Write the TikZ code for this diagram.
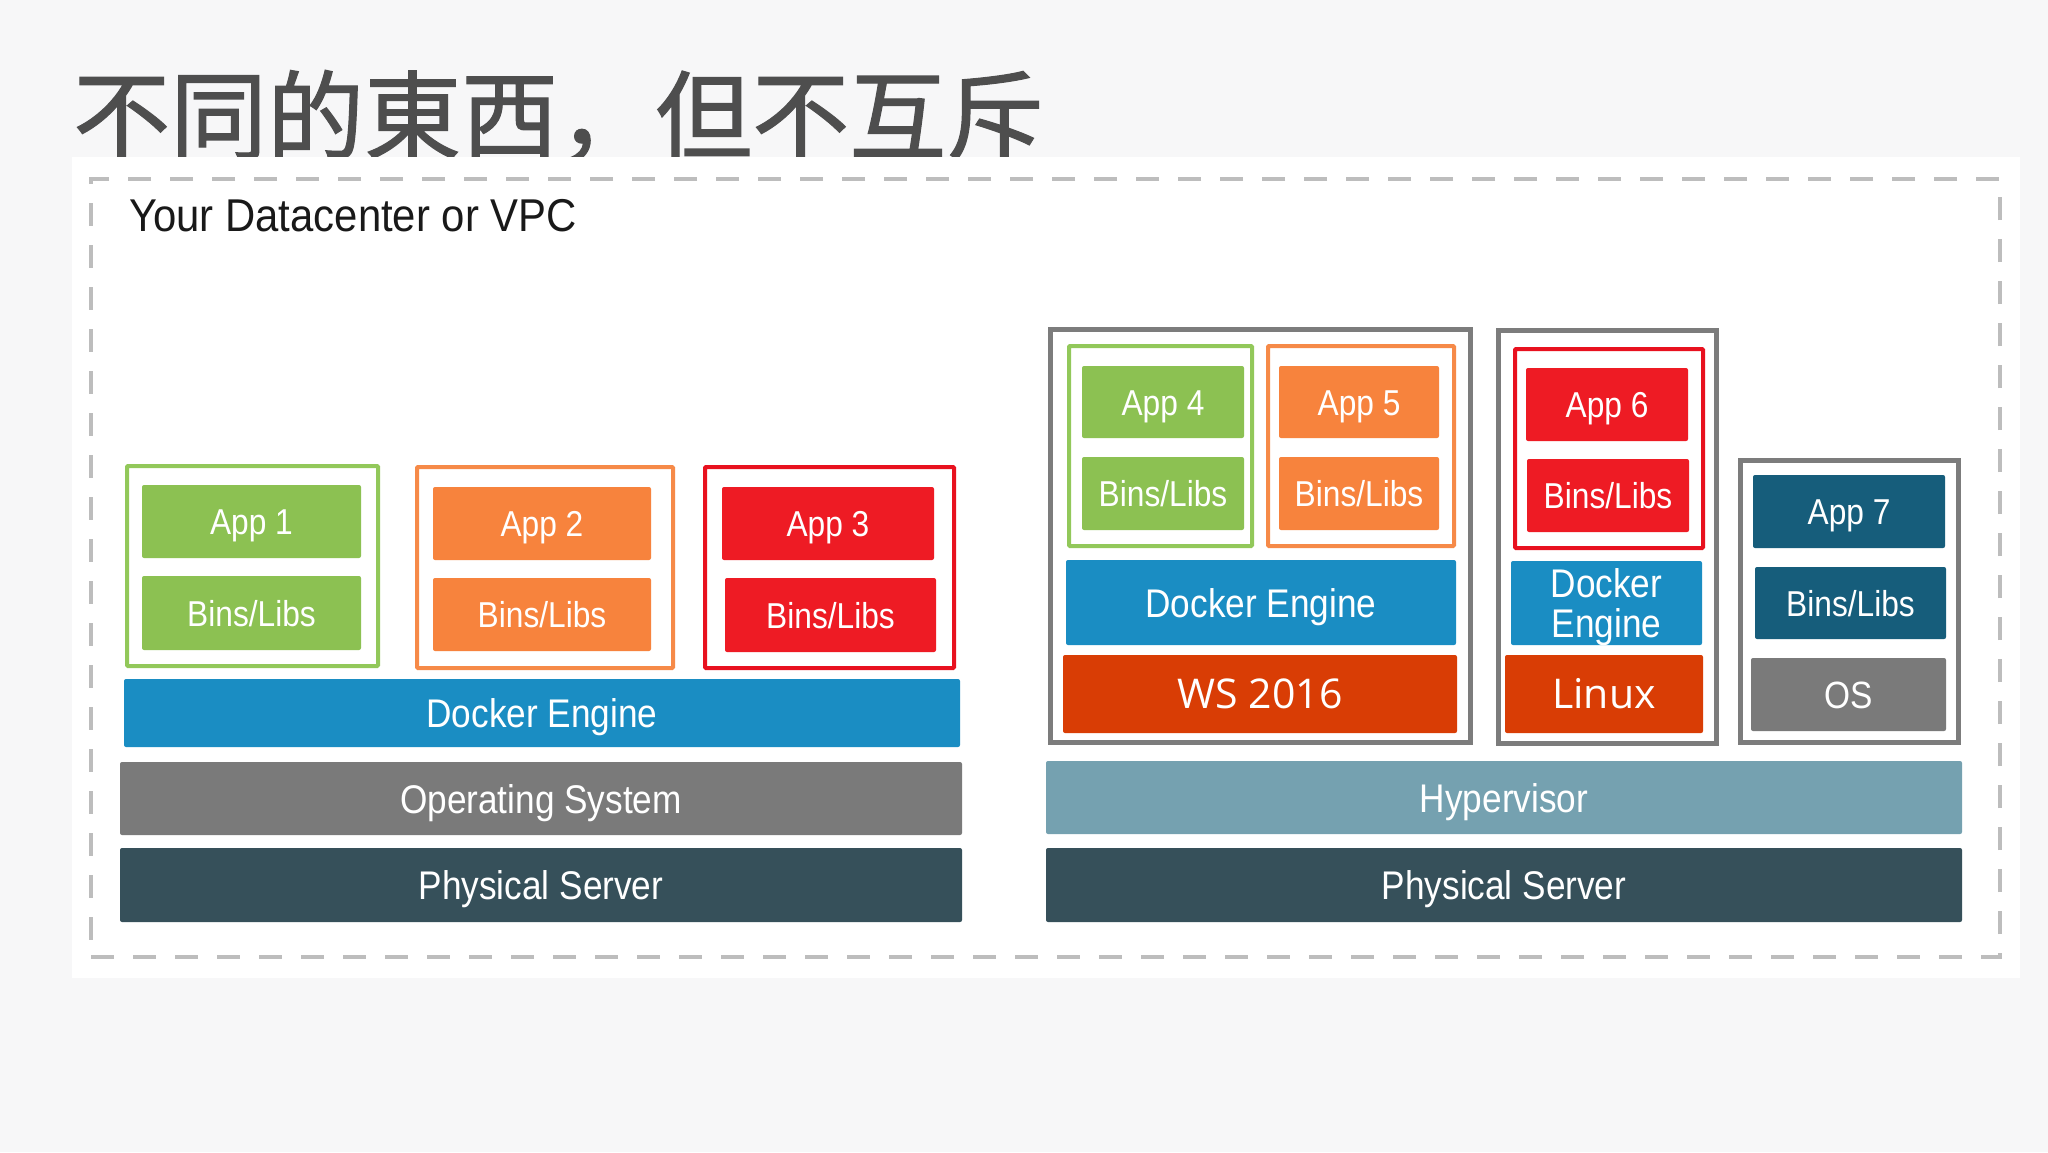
\documentclass[tikz,border=0pt]{standalone}
\usepackage{fontspec}
\setmainfont{Liberation Sans}
\newfontfamily\cjkfont[FakeBold=1.2]{Noto Sans CJK SC}
\newfontfamily\segfont{Open Sans}
\usepackage{graphicx}
\definecolor{cbg}{HTML}{F7F7F8}
\definecolor{ctitle}{HTML}{4E4E4E}
\definecolor{cdash}{HTML}{BDBDBD}
\definecolor{cgreen}{HTML}{8CC152}
\definecolor{cgreenL}{HTML}{92C85A}
\definecolor{corange}{HTML}{F7833D}
\definecolor{corangeL}{HTML}{F68A48}
\definecolor{cred}{HTML}{EE1B24}
\definecolor{credL}{HTML}{E8111F}
\definecolor{cblue}{HTML}{1A8DC3}
\definecolor{cgray}{HTML}{7A7A7A}
\definecolor{cphys}{HTML}{36505A}
\definecolor{chyp}{HTML}{75A1B0}
\definecolor{capp}{HTML}{165D7B}
\definecolor{cws}{HTML}{D93D05}
\definecolor{cvm}{HTML}{7C7C7C}
\newcommand\nt[1]{\scalebox{0.88}[1]{#1}}
\tikzset{
  blk/.style={rectangle, rounded corners=2pt, inner sep=0pt, text=white, draw=none,
              font=\fontsize{36}{40}\selectfont, text height=26pt, text depth=0pt},
  bigblk/.style={blk, font=\fontsize{40}{40}\selectfont, align=center, text height=29pt, text depth=0pt},
  osblk/.style={blk, font=\segfont\fontsize{41}{44}\selectfont, text height=29pt, text depth=0pt},
  cont/.style={rectangle, draw=#1, line width=4pt, fill=white, rounded corners=1pt, inner sep=0pt},
  vmbox/.style={rectangle, draw=cvm, line width=5pt, fill=white, inner sep=0pt},
}
\begin{document}
\begin{tikzpicture}[x=1pt, y=-1pt]
\useasboundingbox (0,0) rectangle (2048,1152);
\fill[cbg] (0,0) rectangle (2048,1152);
% title
\node[anchor=base west, inner sep=0pt, text=ctitle, font=\cjkfont\fontsize{97}{100}\selectfont] (title) at (73,152) {不同的東西，但不互斥};
% white panel
\node[rectangle, fill=white, inner sep=0pt, minimum width=1948pt, minimum height=821pt] (panel) at (1046,567.5) {};
% dashed frame
\node[rectangle, draw=cdash, line width=4pt, dash pattern=on 23pt off 19pt, inner sep=0pt,
      minimum width=1909pt, minimum height=778pt] (frame) at (1045.5,568) {};
\node[anchor=base west, inner sep=0pt, text=black!90, font=\fontsize{46}{50}\selectfont] (lbl) at (129,231) {\scalebox{0.91}[1]{Your Datacenter or VPC}};

% ---------- left stack ----------
\node[cont=cgreenL, minimum width=251pt, minimum height=200pt] (c1) at (252.5,566) {};
\node[cont=corangeL, minimum width=256pt, minimum height=201pt] (c2) at (545,567.5) {};
\node[cont=credL, minimum width=249pt, minimum height=201pt] (c3) at (829.5,567.5) {};
\node[blk, fill=cgreen, minimum width=219pt, minimum height=73pt] (a1) at (251.5,521.5) {\nt{App 1}};
\node[blk, fill=cgreen, minimum width=219pt, minimum height=74pt] (b1) at (251.5,613) {\nt{Bins/Libs}};
\node[blk, fill=corange, minimum width=218pt, minimum height=73pt] (a2) at (542,523.5) {\nt{App 2}};
\node[blk, fill=corange, minimum width=218pt, minimum height=73pt] (b2) at (542,614.5) {\nt{Bins/Libs}};
\node[blk, fill=cred, minimum width=212pt, minimum height=73pt] (a3) at (828,523.5) {\nt{App 3}};
\node[blk, fill=cred, minimum width=211pt, minimum height=74pt] (b3) at (830.5,615) {\nt{Bins/Libs}};
\node[bigblk, fill=cblue, minimum width=836pt, minimum height=68pt] (dock1) at (542,713) {\nt{Docker Engine}};
\node[bigblk, fill=cgray, minimum width=842pt, minimum height=73pt] (os1) at (541,798.5) {\nt{Operating System}};
\node[bigblk, fill=cphys, minimum width=842pt, minimum height=74pt] (phys1) at (541,885) {\nt{Physical Server}};

% ---------- right stack ----------
\node[vmbox, minimum width=420pt, minimum height=413pt] (vm1) at (1260.5,536) {};
\node[vmbox, minimum width=218pt, minimum height=413pt] (vm2) at (1607.5,537) {};
\node[vmbox, minimum width=218pt, minimum height=282pt] (vm3) at (1849.5,601.5) {};

\node[cont=cgreenL, minimum width=183pt, minimum height=200pt] (c4) at (1160.5,446) {};
\node[cont=corangeL, minimum width=186pt, minimum height=200pt] (c5) at (1361,446) {};
\node[cont=credL, minimum width=188pt, minimum height=199pt] (c6) at (1609,448.5) {};

\node[blk, fill=cgreen, minimum width=162pt, minimum height=72pt] (a4) at (1163,402) {\nt{App 4}};
\node[blk, fill=cgreen, minimum width=162pt, minimum height=73pt] (b4) at (1163,493.5) {\nt{Bins/Libs}};
\node[blk, fill=corange, minimum width=160pt, minimum height=72pt] (a5) at (1359,402) {\nt{App 5}};
\node[blk, fill=corange, minimum width=160pt, minimum height=73pt] (b5) at (1359,493.5) {\nt{Bins/Libs}};
\node[bigblk, fill=cblue, minimum width=390pt, minimum height=85pt] (dock2) at (1261,602.5) {\nt{Docker Engine}};
\node[osblk, fill=cws, minimum width=394pt, minimum height=78pt] (ws) at (1260,694) {WS 2016};

\node[blk, fill=cred, minimum width=162pt, minimum height=73pt] (a6) at (1607,404.5) {\nt{App 6}};
\node[blk, fill=cred, minimum width=162pt, minimum height=73pt] (b6) at (1608,495.5) {\nt{Bins/Libs}};
\node[bigblk, fill=cblue, minimum width=191pt, minimum height=84pt, text height=69pt, text depth=0pt] (dock3) at (1606.5,603) {\nt{Docker}\\\nt{Engine}};
\node[osblk, fill=cws, minimum width=198pt, minimum height=78pt] (linux) at (1604,694) {Linux};

\node[blk, fill=capp, minimum width=192pt, minimum height=73pt] (a7) at (1849,511.5) {\nt{App 7}};
\node[blk, fill=capp, minimum width=191pt, minimum height=72pt] (b7) at (1850.5,603) {\nt{Bins/Libs}};
\node[blk, fill=cgray, minimum width=195pt, minimum height=73pt, font=\fontsize{38}{40}\selectfont, text height=27pt] (os2) at (1848.5,694.5) {\nt{OS}};

\node[bigblk, fill=chyp, minimum width=916pt, minimum height=73pt] (hyp) at (1504,797.5) {\nt{Hypervisor}};
\node[bigblk, fill=cphys, minimum width=916pt, minimum height=74pt] (phys2) at (1504,885) {\nt{Physical Server}};
\end{tikzpicture}
\end{document}
